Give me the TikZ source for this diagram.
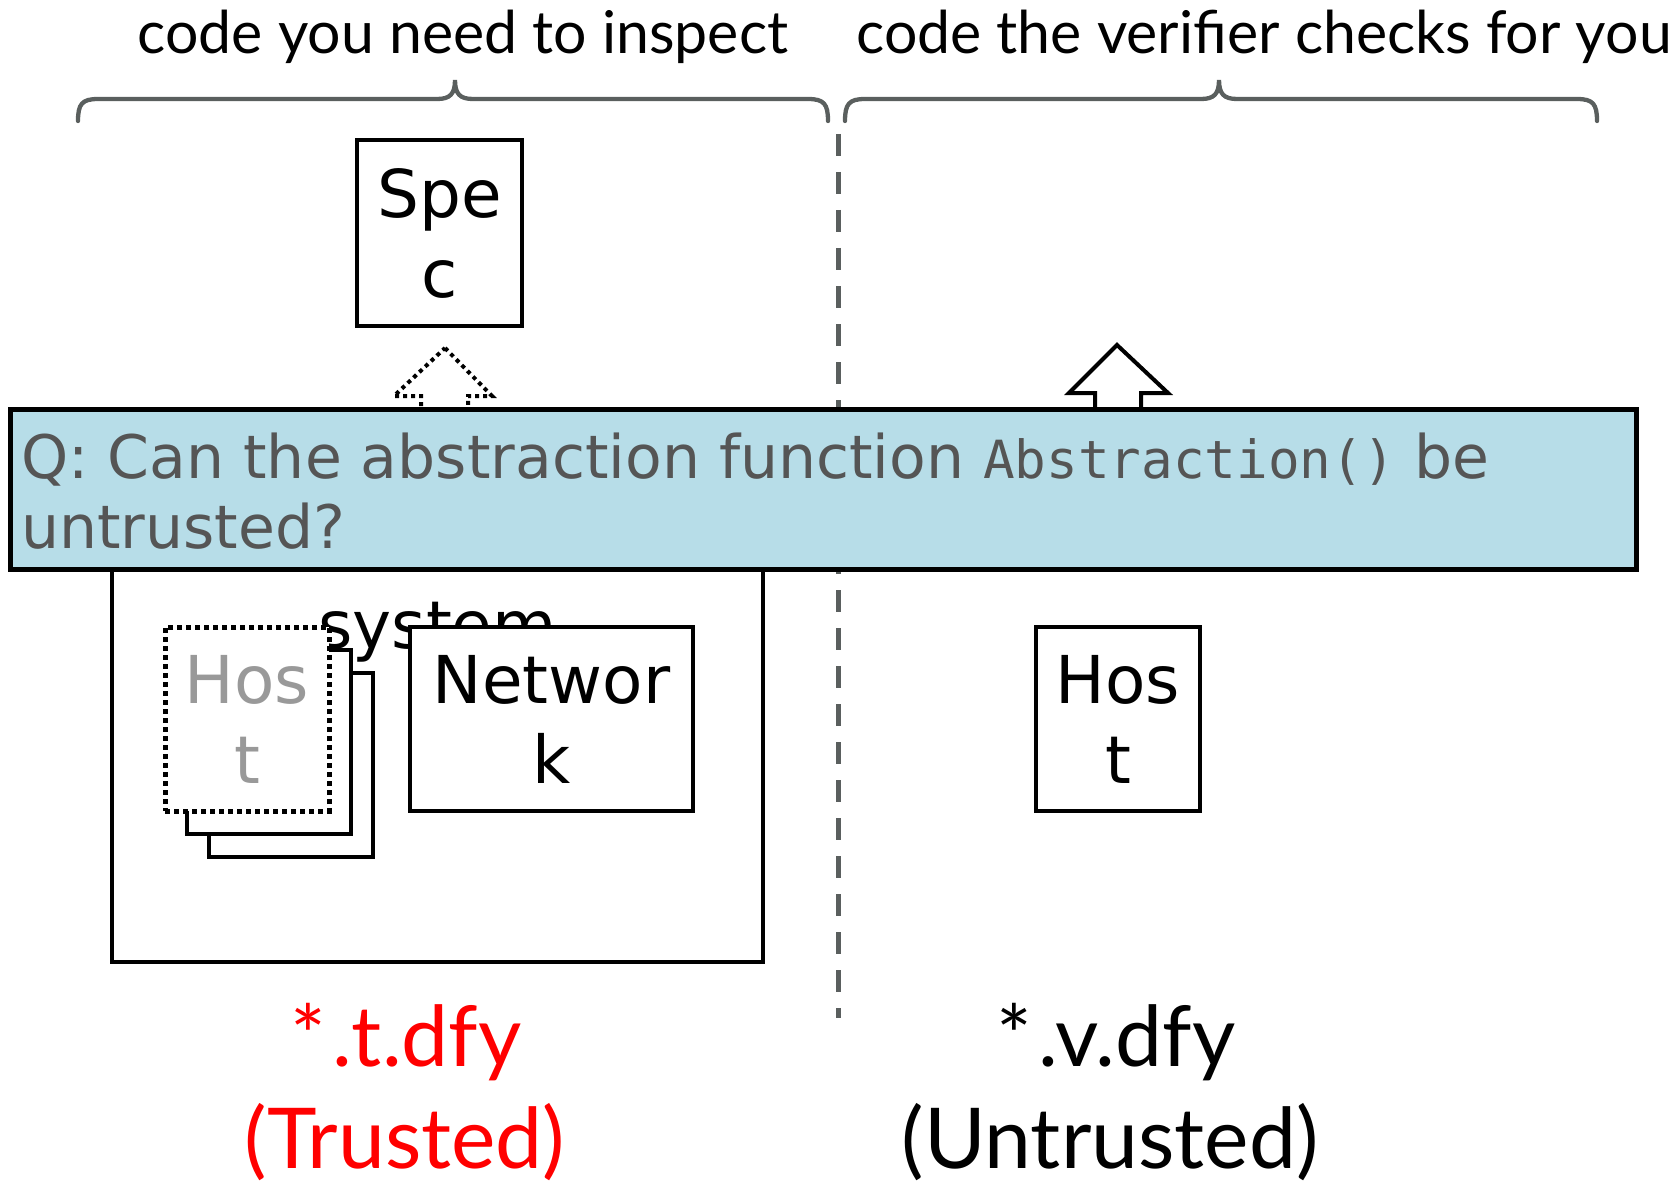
\documentclass[tikz,border=0pt]{standalone}
\usepackage{fontspec}
\setmainfont{Lato}
\newfontfamily\boxfont{DejaVu Sans}
\newfontfamily\qmono{DejaVu Sans Mono}
\definecolor{qblue}{HTML}{B7DDE8}
\definecolor{qtext}{HTML}{555555}
\definecolor{bracegray}{HTML}{5A5F5E}
\definecolor{hostgray}{HTML}{999999}
\begin{document}
\begin{tikzpicture}[x=1pt,y=-1pt,
  compbox/.style={draw=black, line width=4pt, fill=white, inner sep=0pt,
    font=\boxfont\fontsize{66}{80}\selectfont, align=center},
  hostbox/.style={compbox, minimum width=164pt, minimum height=184pt},
  dotbox/.style={hostbox, line width=5pt, dash pattern=on 5pt off 4pt, text=hostgray},
  toplabel/.style={font=\fontsize{59}{70}\selectfont, inner sep=0pt, anchor=base},
  bottomlabel/.style={font=\fontsize{84}{100}\selectfont, inner sep=0pt, anchor=base},
  bracestyle/.style={draw=bracegray, line width=4.3pt, line cap=round},
  blockarrow/.style={draw=black, line width=4pt, fill=white, line join=miter},
  dotarrow/.style={draw=black, line width=4pt, fill=white, dash pattern=on 4pt off 4pt}
]
\useasboundingbox (0,0) rectangle (1680,1182);

% top labels and braces
\node[toplabel] (lefttitle) at (463,54) {code you need to inspect};
\node[toplabel] (righttitle) at (1264,54) {code the verifier checks for you};
\draw[bracestyle] (78,121) .. controls (78,104) and (82,99) .. (98,99) -- (437,99)
  .. controls (450,99) and (455,94) .. (455,80)
  .. controls (455,94) and (460,99) .. (473,99) -- (808,99)
  .. controls (824,99) and (828,104) .. (828,121);
\draw[bracestyle] (845,121) .. controls (845,104) and (849,99) .. (865,99) -- (1201,99)
  .. controls (1214,99) and (1219,94) .. (1219,80)
  .. controls (1219,94) and (1224,99) .. (1237,99) -- (1577,99)
  .. controls (1593,99) and (1597,104) .. (1597,121);

% dashed separator
\coordinate (sepTop) at (838,134);
\coordinate (sepBot) at (838,1018);
\draw[draw=bracegray, line width=5pt, dash pattern=on 22pt off 16pt] (sepTop) -- (sepBot);

% system box
\node[draw=black, line width=4pt, fill=white, minimum width=651pt, minimum height=490pt, inner sep=0pt] (system) at (437.5,717) {};
\node[font=\boxfont\fontsize{66}{80}\selectfont, inner sep=0pt, anchor=base] (systemlabel) at (437.5,648) {system};

% block arrows
\draw[dotarrow] (445,348) -- (492,396) -- (468,396) -- (468,412) -- (421,412) -- (421,396) -- (394,396) -- cycle;
\draw[blockarrow] (1117,345) -- (1168,393) -- (1141,393) -- (1141,412) -- (1095,412) -- (1095,393) -- (1069,393) -- cycle;

% component boxes
\node[compbox, minimum width=165pt, minimum height=186pt] (spec) at (439.5,233) {Spe\\c};
\node[compbox, minimum width=283pt, minimum height=184pt] (network) at (551.5,719) {Networ\\k};
\node[hostbox] (hostback) at (291,765) {};
\node[hostbox] (hostmid) at (269,741.5) {};
\node[dotbox] (hostfront) at (247,719) {Hos\\t};
\node[hostbox] (hostright) at (1118,719) {Hos\\t};

% question overlay
\node[draw=black, line width=5pt, fill=qblue, minimum width=1626pt, minimum height=160pt, inner sep=0pt] (qbox) at (823,489) {};
\node[anchor=north west, inner sep=0pt, align=left, text=qtext,
  font=\boxfont\fontsize{60}{70}\selectfont] (qtext) at (21,433)
  {Q: Can the abstraction function {\qmono\fontsize{52.6}{70}\selectfont Abstraction()} be\\untrusted?};

% bottom labels
\node[bottomlabel, text=red] (tname) at (406,1066) {*\kern6pt.t.dfy};
\node[bottomlabel, text=red] (tkind) at (405,1168) {(Trusted)};
\node[bottomlabel] (vname) at (1116,1066) {*\kern6pt.v.dfy};
\node[bottomlabel] (vkind) at (1110,1168) {(Untrusted)};
\end{tikzpicture}
\end{document}
